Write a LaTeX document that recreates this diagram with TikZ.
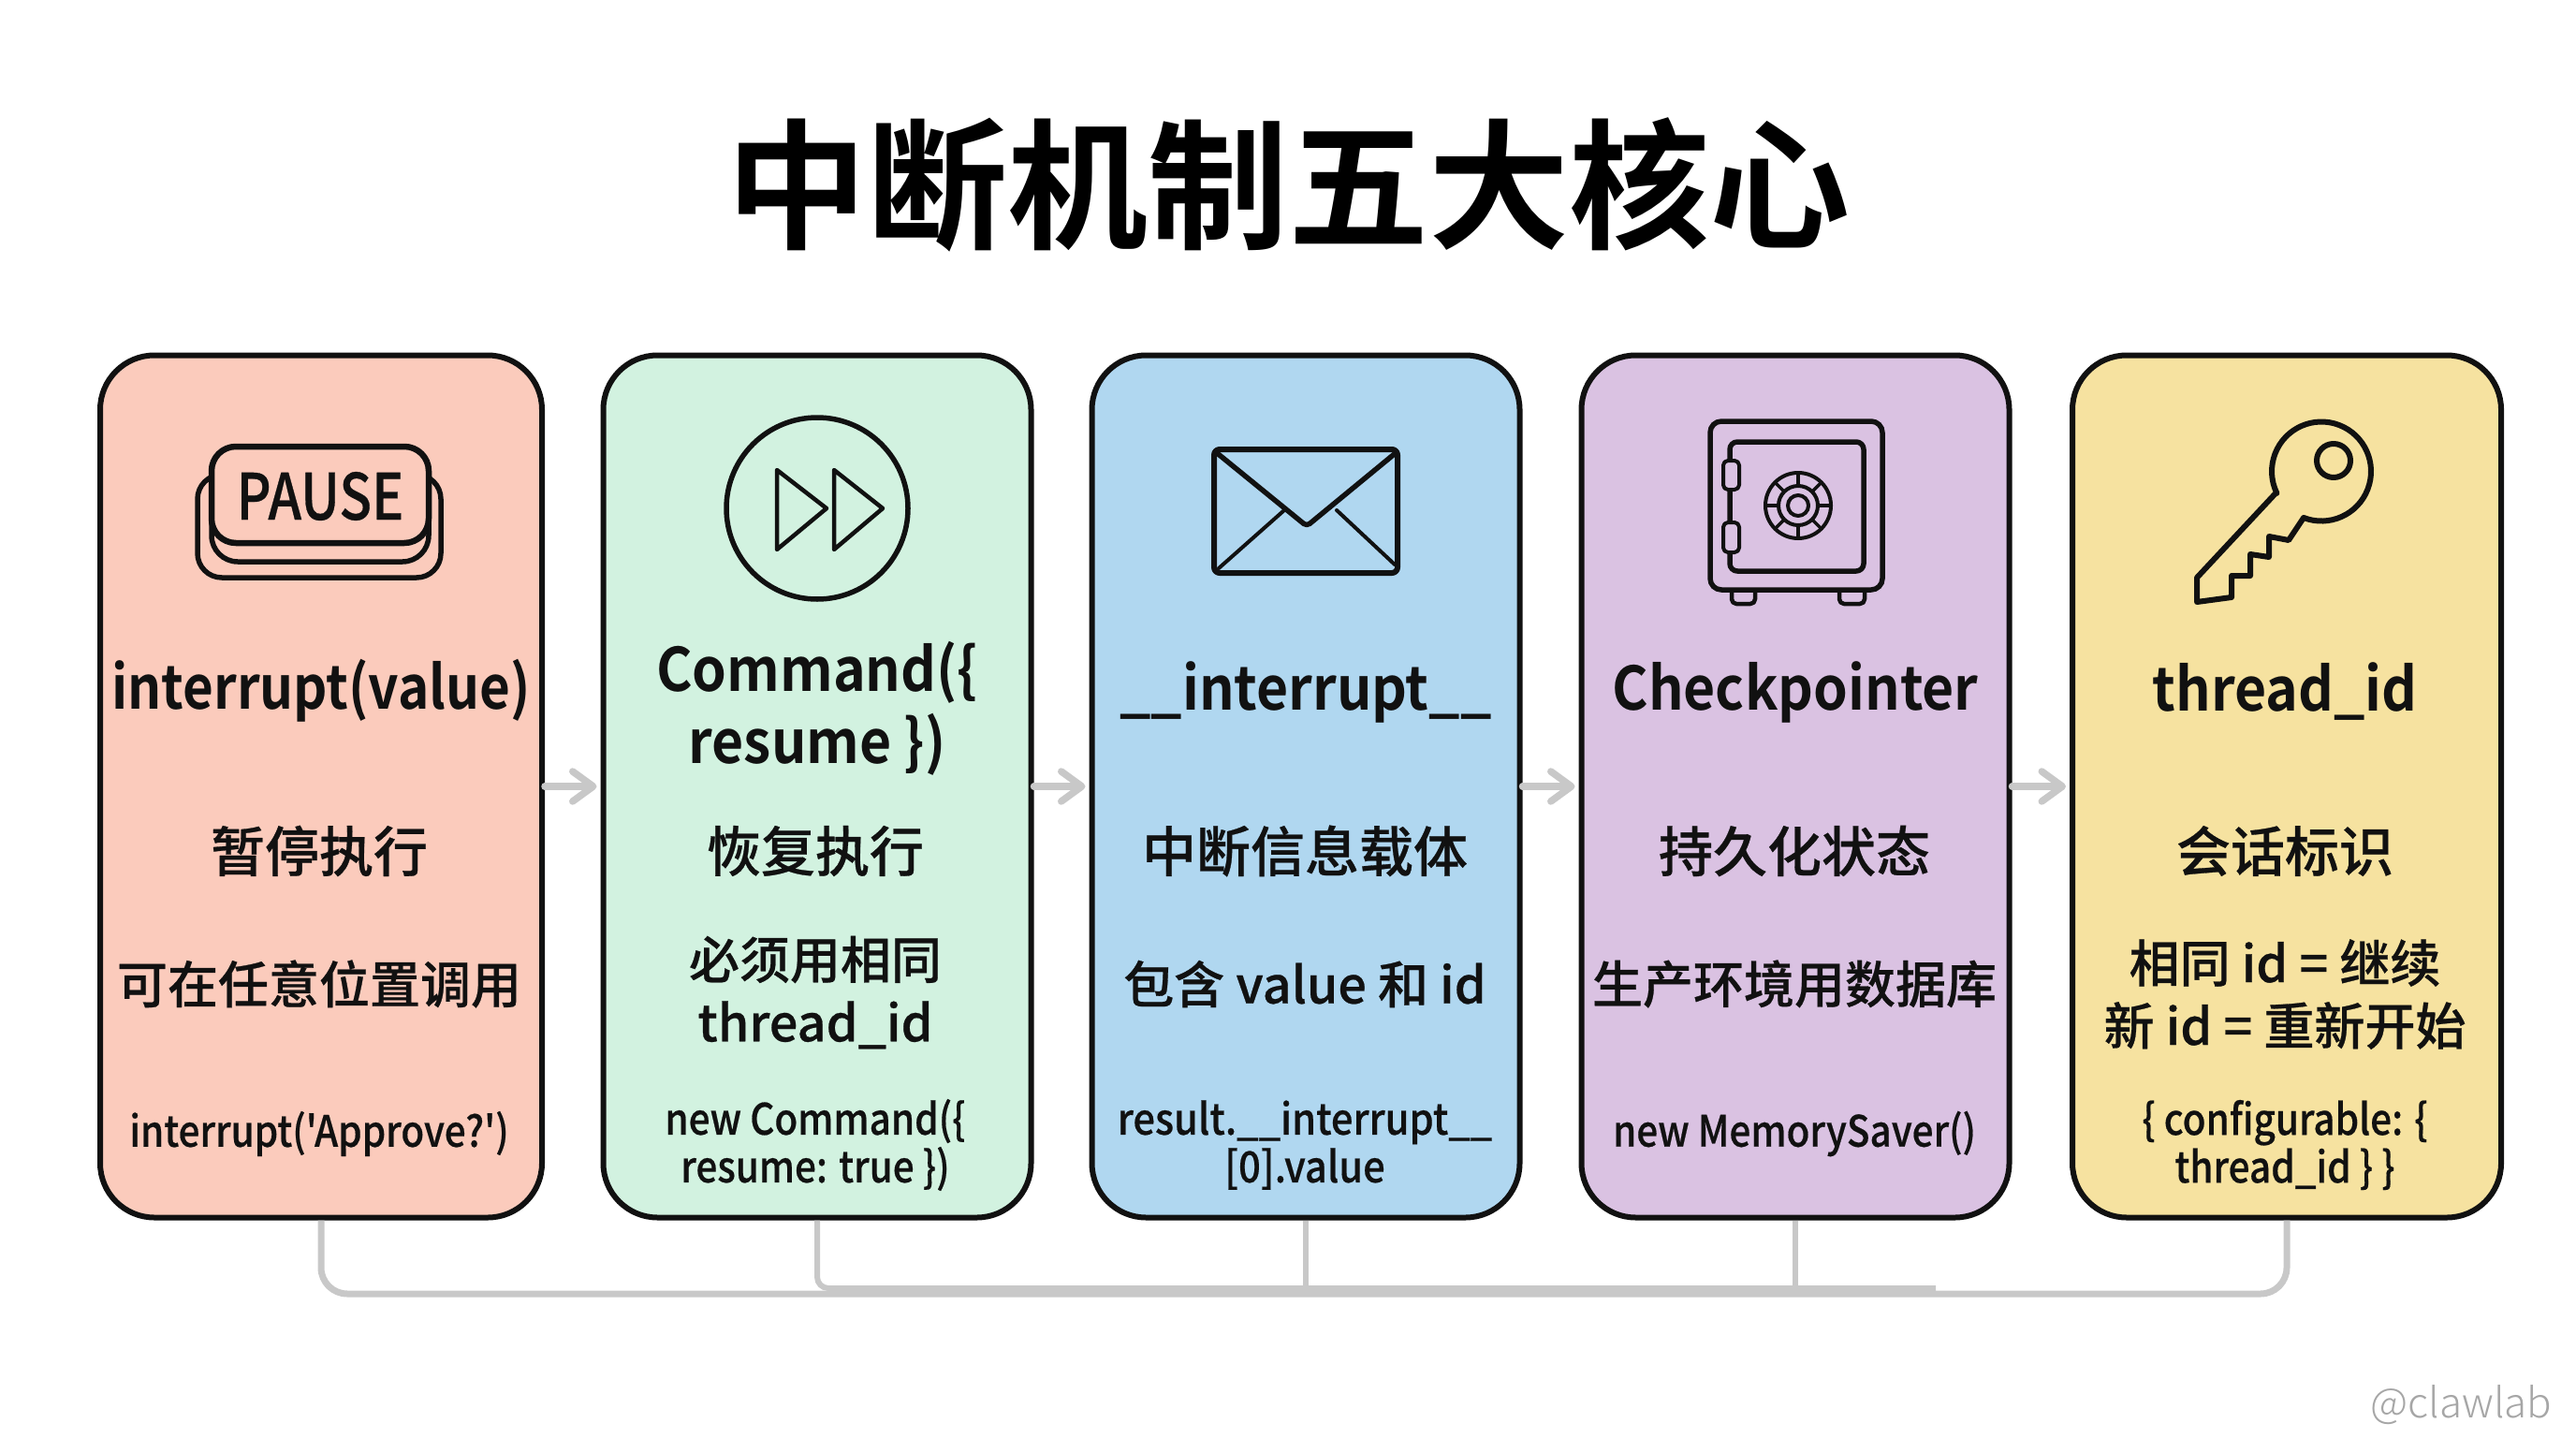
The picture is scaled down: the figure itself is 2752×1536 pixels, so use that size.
\documentclass[tikz,border=0pt]{standalone}
\usepackage{fontspec}
\usetikzlibrary{arrows.meta}
\newfontfamily\cardfont[FakeBold=0.5]{Noto Sans CJK SC Medium}
\newfontfamily\codefont[FakeStretch=0.88,FakeBold=0.4]{Noto Sans CJK SC Medium}
\newfontfamily\boldfont{Noto Sans CJK SC Bold}
\newfontfamily\headfont[FakeStretch=0.92]{Noto Sans CJK SC Bold}
\newfontfamily\thinfont{Noto Sans CJK SC Light}
\definecolor{salmoncard}{HTML}{FBCBBC}
\definecolor{greencard}{HTML}{D2F2E0}
\definecolor{bluecard}{HTML}{B0D7F0}
\definecolor{purplecard}{HTML}{DAC2E2}
\definecolor{yellowcard}{HTML}{F6E2A0}
\definecolor{linkgray}{HTML}{C8C8C8}
\definecolor{inkblack}{HTML}{111111}
\tikzset{
	card/.style = {draw = inkblack, line width = 6pt, rounded corners = 58pt, minimum height = 921pt, inner sep = 0pt},
	icon/.style = {draw = inkblack, line width = 5.5pt, line join = round, line cap = round},
	headtext/.style = {text = inkblack, align = center, font = \headfont\fontsize{64}{77}\selectfont},
	zhtext/.style = {text = inkblack, align = center, font = \cardfont\fontsize{58}{67}\selectfont},
	notetext/.style = {text = inkblack, align = center, font = \cardfont\fontsize{54}{67}\selectfont},
	codetext/.style = {text = inkblack, align = center, font = \codefont\fontsize{46}{51}\selectfont},
	flow/.style = {draw = linkgray, line width = 7.5pt, line cap = round, line join = round, -{Straight Barb[length = 22pt, width = 32pt, round]}, shorten > = 4pt},
	bus/.style = {draw = linkgray, line width = 7pt, rounded corners = 28pt},
}
\begin{document}
\begin{tikzpicture} [x = 1pt, y = -1pt]
	\useasboundingbox (0,0) rectangle (2752,1536);
	\node (title) [text = black, font = \boldfont\fontsize{150}{160}\selectfont] at (1376,197) {中断机制五大核心};

	\node (cardone) [card, fill = salmoncard, minimum width = 472pt] at (343,840) {};
	\node (cardtwo) [card, fill = greencard, minimum width = 457pt] at (873,840) {};
	\node (cardthree) [card, fill = bluecard, minimum width = 457pt] at (1395,840) {};
	\node (cardfour) [card, fill = purplecard, minimum width = 457pt] at (1918,840) {};
	\node (cardfive) [card, fill = yellowcard, minimum width = 458pt] at (2443,840) {};

	\draw [flow] (cardone) -- (cardtwo);
	\draw [flow] (cardtwo) -- (cardthree);
	\draw [flow] (cardthree) -- (cardfour);
	\draw [flow] (cardfour) -- (cardfive);

	\coordinate (busone) at (0,1382);
	\coordinate (bustwo) at (0,1376);
	\draw [bus] (cardone.south) -- (cardone.south |- busone) -- (cardfive.south |- busone) -- (cardfive.south);
	\draw [bus, rounded corners = 12pt, line width = 6pt] (cardtwo.south) -- (cardtwo.south |- bustwo) -- (cardfour.south |- bustwo) -- ++(150,0);
	\draw [bus, rounded corners = 0pt, line width = 6pt] (cardthree.south) -- (cardthree.south |- bustwo);
	\draw [bus, rounded corners = 0pt, line width = 6pt] (cardfour.south) -- (cardfour.south |- bustwo);

	\node (headone) [headtext, xscale = 0.96] at (343,738) {interrupt(value)};
	\node (headtwo) [headtext] at (873,757) {Command(\{\\resume \})};
	\node (headthree) [headtext] at (1395,739) {\_\_interrupt\_\_};
	\node (headfour) [headtext] at (1918,739) {Checkpointer};
	\node (headfive) [headtext] at (2441,739) {thread\_id};

	\node (zhone) [zhtext] at (341,909) {暂停执行};
	\node (zhtwo) [zhtext] at (871,909) {恢复执行};
	\node (zhthree) [zhtext] at (1394,909) {中断信息载体};
	\node (zhfour) [zhtext] at (1917,909) {持久化状态};
	\node (zhfive) [zhtext] at (2441,909) {会话标识};

	\node (noteone) [notetext] at (341,1051) {可在任意位置调用};
	\node (notetwo) [notetext] at (871,1060) {必须用相同\\thread\_id};
	\node (notethree) [notetext] at (1394,1051) {包含 value 和 id};
	\node (notefour) [notetext] at (1917,1051) {生产环境用数据库};
	\node (notefive) [notetext] at (2441,1062) {相同 id = 继续\\新 id = 重新开始};

	\node (codeone) [codetext] at (341,1211) {interrupt('Approve?')};
	\node (codetwo) [codetext] at (871,1223) {new Command(\{\\resume: true \})};
	\node (codethree) [codetext, xscale = 1.03] at (1394,1223) {result.\_\_interrupt\_\_\\{}[0].value};
	\node (codefour) [codetext] at (1917,1211) {new MemorySaver()};
	\node (codefive) [codetext] at (2441,1223) {\{ configurable: \{\\thread\_id \} \}};

	\node (mark) [anchor = east, text = gray!70, font = \thinfont\fontsize{44}{50}\selectfont] at (2730,1501) {@clawlab};

	\draw [icon, rounded corners = 28pt] (226,540) -- (226,600) -- (458,600) -- (458,540);
	\draw [icon, rounded corners = 26pt] (226,507) -- (211,507) -- (211,617) -- (471,617) -- (471,507) -- (458,507);
	\draw [icon, fill = salmoncard, rounded corners = 26pt, line width = 6.5pt] (226,477) rectangle (458,580);
	\node (pause) [xscale = 0.84, text = inkblack, font = \cardfont\fontsize{68}{70}\selectfont] at (342,530) {PAUSE};

	\draw [icon] (873,543) circle [radius = 97pt];
	\draw [icon, line width = 4.5pt] (830,502) -- (883,543) -- (830,587) -- cycle;
	\draw [icon, line width = 4.5pt] (891,502) -- (943,543) -- (891,587) -- cycle;

	\draw [icon, rounded corners = 6pt, line width = 6pt] (1297,480) rectangle (1493,612);
	\draw [icon, rounded corners = 4pt] (1299,483) -- (1396,562) -- (1492,483);
	\draw [icon, line width = 4pt] (1302,607) -- (1372,545);
	\draw [icon, line width = 4pt] (1428,545) -- (1490,603);

	\draw [icon, rounded corners = 12pt] (1827,450) rectangle (2011,630);
	\draw [icon, rounded corners = 8pt] (1848,472) rectangle (1991,610);
	\draw [icon, fill = purplecard, rounded corners = 5pt, line width = 4pt] (1841,492) rectangle (1858,523);
	\draw [icon, fill = purplecard, rounded corners = 5pt, line width = 4pt] (1841,558) rectangle (1858,590);
	\draw [icon, line width = 4pt] (1921,540) circle [radius = 35pt];
	\draw [icon, line width = 4pt] (1921,540) circle [radius = 21pt];
	\draw [icon, line width = 4pt] (1921,540) circle [radius = 11pt];
	\foreach \tickangle in {0,45,...,315}
		\draw [icon, line width = 3.5pt] (1921,540) ++(\tickangle:21pt) -- ++(\tickangle:14pt);
	\draw [icon, rounded corners = 5pt, line width = 4.5pt] (1850,631) -- (1850,645) -- (1875,645) -- (1875,631);
	\draw [icon, rounded corners = 5pt, line width = 4.5pt] (1965,631) -- (1965,645) -- (1992,645) -- (1992,631);

	\draw [icon, line width = 6pt] (2431,527) -- (2347,617) -- (2347,643) -- (2384,638) -- (2384,615) -- (2404,615) -- (2404,592) -- (2424,595) -- (2424,573) -- (2445,577) -- (2461,553) arc [start angle = 249, end angle = 566, radius = 53pt];
	\draw [icon, line width = 6pt] (2493,492) circle [radius = 18pt];
\end{tikzpicture}
\end{document}
